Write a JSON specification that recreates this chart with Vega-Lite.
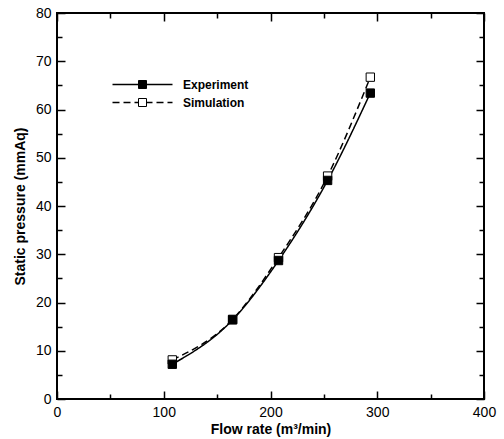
{
  "$schema": "https://vega.github.io/schema/vega-lite/v6.json",
  "width": 427,
  "height": 386,
  "autosize": {"type": "none"},
  "padding": {"left": 57, "top": 13, "right": 20, "bottom": 40},
  "background": "white",
  "data": {
    "values": [
      {"flow": 108, "pressure": 8.1, "series": "Simulation"},
      {"flow": 164.5, "pressure": 16.5, "series": "Simulation"},
      {"flow": 207.5, "pressure": 29.3, "series": "Simulation"},
      {"flow": 253.5, "pressure": 46.2, "series": "Simulation"},
      {"flow": 293.5, "pressure": 66.7, "series": "Simulation"},
      {"flow": 108, "pressure": 7.2, "series": "Experiment"},
      {"flow": 164.5, "pressure": 16.4, "series": "Experiment"},
      {"flow": 207.5, "pressure": 28.7, "series": "Experiment"},
      {"flow": 253.5, "pressure": 45.3, "series": "Experiment"},
      {"flow": 293.5, "pressure": 63.4, "series": "Experiment"}
    ]
  },
  "layer": [
    {
      "mark": {"type": "line", "interpolate": "monotone", "color": "black", "strokeWidth": 1.5},
      "encoding": {
        "x": {"field": "flow", "type": "quantitative", "scale": {"domain": [0, 400], "nice": false},
          "axis": {"orient": "bottom", "values": [0, 100, 200, 300, 400], "tickSize": -8, "labelPadding": 14, "title": "Flow rate (m³/min)", "titlePadding": 3}},
        "y": {"field": "pressure", "type": "quantitative", "scale": {"domain": [0, 80], "nice": false},
          "axis": {"orient": "left", "values": [0, 10, 20, 30, 40, 50, 60, 70, 80], "tickSize": -8, "labelPadding": 14, "title": "Static pressure (mmAq)", "titlePadding": 8}},
        "strokeDash": {"field": "series", "type": "nominal",
          "scale": {"domain": ["Experiment", "Simulation"], "range": [[1, 0], [7, 4]]},
          "legend": {"orient": "none", "legendX": 79.5, "legendY": 65.5, "title": null, "padding": 0,
            "symbolType": "M-6,0H6", "symbolSize": 100, "symbolStrokeColor": "black", "symbolStrokeWidth": 1.5, "symbolFillColor": "transparent",
            "labelFont": "Liberation Sans", "labelFontSize": 12, "labelFontWeight": "bold", "labelColor": "black", "labelOffset": 34.5, "rowPadding": 6}}
      }
    },
    {
      "mark": {"type": "point", "shape": "square", "filled": true, "stroke": "black", "strokeWidth": 1, "size": 70, "opacity": 1},
      "encoding": {
        "x": {"field": "flow", "type": "quantitative",
          "axis": {"orient": "bottom", "values": [50, 150, 250, 350], "tickSize": -5, "labels": false, "title": null}},
        "y": {"field": "pressure", "type": "quantitative",
          "axis": {"orient": "left", "values": [5, 15, 25, 35, 45, 55, 65, 75], "tickSize": -5, "labels": false, "title": null}},
        "fill": {"field": "series", "type": "nominal",
          "scale": {"range": ["black", "white"]},
          "legend": {"orient": "none", "legendX": 79.5, "legendY": 65.5, "title": null, "padding": 0,
            "symbolType": "square", "symbolSize": 64, "symbolStrokeColor": "black", "symbolStrokeWidth": 1,
            "labelFont": "Liberation Sans", "labelFontSize": 12, "labelFontWeight": "bold", "labelOpacity": 0, "labelOffset": 34.5, "rowPadding": 6}}
      }
    },
    {
      "mark": {"type": "point", "opacity": 0},
      "encoding": {
        "x": {"field": "flow", "type": "quantitative",
          "axis": {"orient": "top", "values": [0, 100, 200, 300, 400], "tickSize": -8, "labels": false, "title": null}},
        "y": {"field": "pressure", "type": "quantitative",
          "axis": {"orient": "right", "values": [0, 10, 20, 30, 40, 50, 60, 70, 80], "tickSize": -8, "labels": false, "title": null}}
      }
    },
    {
      "mark": {"type": "point", "opacity": 0},
      "encoding": {
        "x": {"field": "flow", "type": "quantitative",
          "axis": {"orient": "top", "values": [50, 150, 250, 350], "tickSize": -5, "labels": false, "title": null}},
        "y": {"field": "pressure", "type": "quantitative",
          "axis": {"orient": "right", "values": [5, 15, 25, 35, 45, 55, 65, 75], "tickSize": -5, "labels": false, "title": null}}
      }
    }
  ],
  "resolve": {"axis": {"x": "independent", "y": "independent"}},
  "config": {
    "view": {"stroke": "black", "strokeWidth": 2},
    "axis": {"grid": false, "domain": false, "tickColor": "black", "tickWidth": 1.5,
      "labelFont": "Liberation Sans", "labelFontSize": 14, "labelColor": "black", "labelFlush": false, "labelOverlap": false,
      "titleFont": "Liberation Sans", "titleFontSize": 14, "titleFontWeight": "bold", "titleColor": "black"}
  }
}
